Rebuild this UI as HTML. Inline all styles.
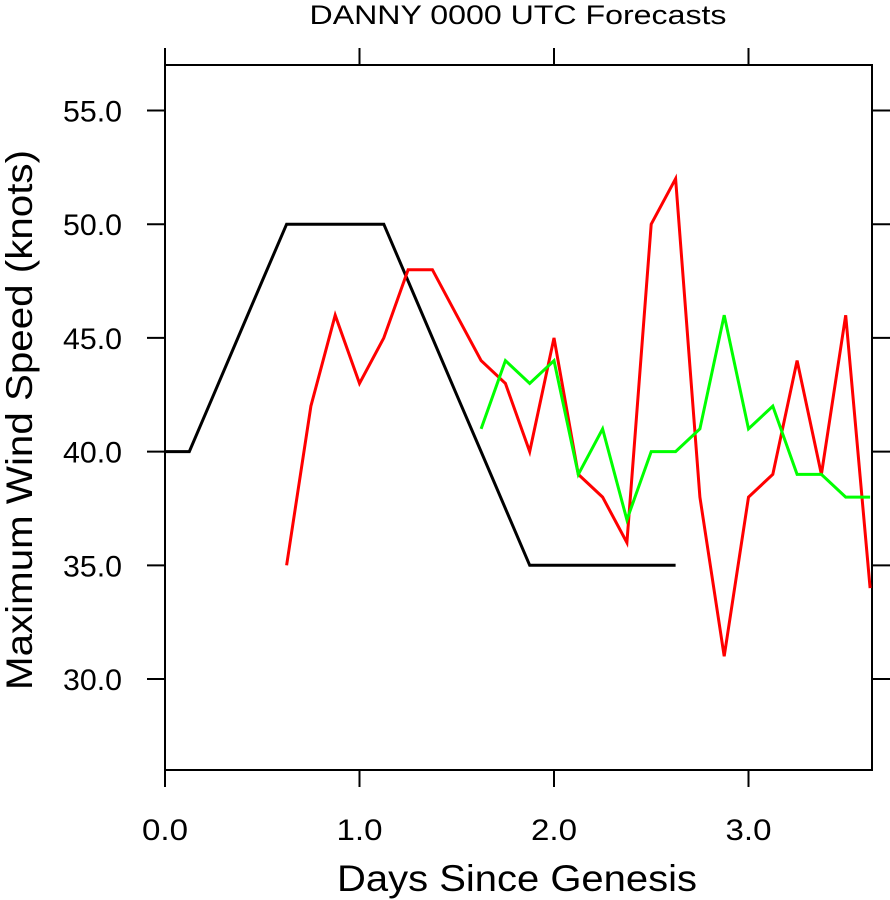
<!DOCTYPE html>
<html><head><meta charset="utf-8"><style>
html,body{margin:0;padding:0;background:#fff;}
svg{display:block;font-family:"Liberation Sans",Arial,sans-serif;}
</style></head><body>
<svg id="chart" width="890" height="900" viewBox="0 0 890 900">
<text x="518" y="24" text-anchor="middle" font-size="27" textLength="417" lengthAdjust="spacingAndGlyphs">DANNY 0000 UTC Forecasts</text>
<g id="plot"></g>
<text x="517" y="891" text-anchor="middle" font-size="37" textLength="360" lengthAdjust="spacingAndGlyphs">Days Since Genesis</text>
<text transform="translate(32,420) rotate(-90)" text-anchor="middle" font-size="37" textLength="540" lengthAdjust="spacingAndGlyphs">Maximum Wind Speed (knots)</text>
</svg>
<script>
const xTicks = [0, 1, 2, 3];
const yTicks = [30, 35, 40, 45, 50, 55];
const blackStart = 0;
const blackVals = [40,40,42.5,45,47.5,50,50,50,50,50,47.5,45,42.5,40,37.5,35,35,35,35,35,35,35];
const redStart = 0.625;
const redVals = [35,42,46,43,45,48,48,46,44,43,40,45,39,38,36,50,52,38,31,38,39,44,39,46,34];
const greenStart = 1.625;
const greenVals = [41,44,43,44,39,41,37,40,40,41,46,41,42,39,39,38,38];
const step = 0.125;

const L=165,R=872,T=65,B=770, xMin=0,xMax=3.635,yMin=26,yMax=57;
const sx=v=>L+(v-xMin)/(xMax-xMin)*(R-L);
const sy=v=>B-(v-yMin)/(yMax-yMin)*(B-T);
const NS='http://www.w3.org/2000/svg';
const g=document.getElementById('plot');
function mk(t,a){const e=document.createElementNS(NS,t);for(const k in a)e.setAttribute(k,a[k]);g.appendChild(e);return e;}
const frame=mk('rect',{x:L,y:T,width:R-L,height:B-T,fill:'none',stroke:'#000','stroke-width':2});


xTicks.forEach(v=>{
  const x=sx(v);
  const t1=mk('line',{x1:x,x2:x,y1:B,y2:B+17,stroke:'#000','stroke-width':2});
  
  
  const t2=mk('line',{x1:x,x2:x,y1:T,y2:T-17,stroke:'#000','stroke-width':2});
  
  
  const lb=mk('text',{x:x,y:B+70,'text-anchor':'middle','font-size':30,textLength:46,lengthAdjust:'spacingAndGlyphs'});
  lb.textContent=v.toFixed(1);
  
  
});
yTicks.forEach(v=>{
  const y=sy(v);
  const t1=mk('line',{x1:L-18,x2:L,y1:y,y2:y,stroke:'#000','stroke-width':2});
  
  
  const t2=mk('line',{x1:R,x2:R+18,y1:y,y2:y,stroke:'#000','stroke-width':2});
  
  
  const lb=mk('text',{x:L-43,y:y+11,'text-anchor':'end','font-size':30,textLength:59,lengthAdjust:'spacingAndGlyphs'});
  lb.textContent=v.toFixed(1);
  
  
});
const defs=document.createElementNS(NS,'defs');
defs.innerHTML='<clipPath id="clip"><rect x="'+L+'" y="'+T+'" width="'+(R-L)+'" height="'+(B-T)+'"/></clipPath>';
g.appendChild(defs);
function series(start,vals,color,name){
  const pts=vals.map((v,i)=>sx(start+i*step).toFixed(1)+','+sy(v).toFixed(1)).join(' ');
  const p=mk('polyline',{points:pts,fill:'none',stroke:color,'stroke-width':3,'stroke-linejoin':'miter','clip-path':'url(#clip)'});
  
  
}
series(blackStart,blackVals,'#000','black-forecast-line');
series(redStart,redVals,'#ff0000','red-forecast-line');
series(greenStart,greenVals,'#00ff00','green-forecast-line');
</script>
</body></html>
